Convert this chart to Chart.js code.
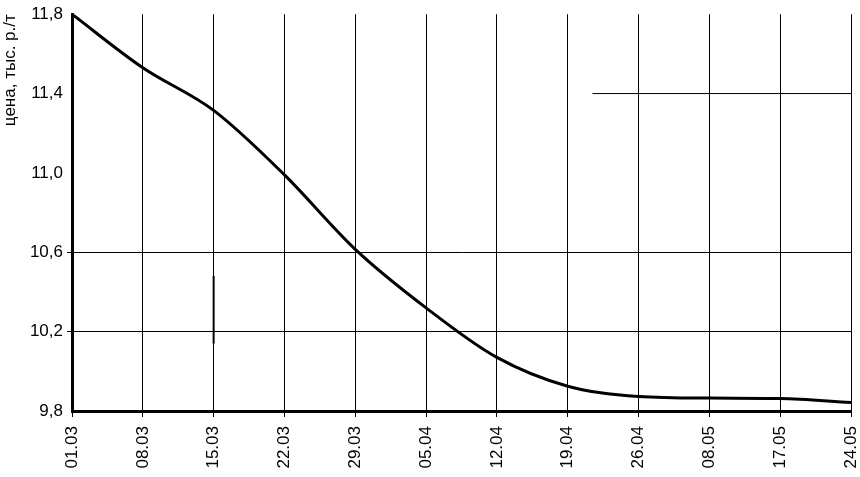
<!DOCTYPE html>
<html>
<head>
<meta charset="utf-8">
<script src="https://cdn.jsdelivr.net/npm/chart.js@4/dist/chart.umd.min.js"></script>
<style>
  html, body { margin: 0; padding: 0; background: #fff; }
  #wrap { width: 860px; height: 477px; position: relative; }
</style>
</head>
<body>
<div id="wrap"><canvas id="my_chart"></canvas></div>
<script>
// dates on the x axis (evenly spaced)
var date_labels = ['01.03', '08.03', '15.03', '22.03', '29.03', '05.04', '12.04', '19.04', '26.04', '08.05', '17.05', '24.05']
// price, thousand rub per tonne, read at each date
var price_values = [11.8, 11.53, 11.315, 10.99, 10.615, 10.32, 10.07, 9.925, 9.873, 9.865, 9.863, 9.843]
// stray marks on the original picture
var stray_h_x = [7.35, 11]
var stray_h_y = [11.4, 11.4]
var stray_v_x = [2, 2]
var stray_v_y = [10.48, 10.14]

var y_ticks = [9.8, 10.2, 10.6, 11.0, 11.4, 11.8]
var y_grid_shown = [10.2, 10.6]

function to_points(xs, ys) {
  return xs.map((x, i) => ({x: x, y: ys[i]}))
}

var font_family = '"Liberation Sans", Arial, sans-serif'

window.addEventListener("DOMContentLoaded", () => {
  var ctx = document.getElementById("my_chart")
  var my_chart = new Chart(ctx, {
    type: 'line',
    data: {
      datasets: [
        {
          label: 'цена',
          data: price_values.map((v, i) => ({x: i, y: v})),
          borderColor: '#000',
          borderWidth: 3,
          pointRadius: 0,
          cubicInterpolationMode: 'monotone',
          fill: false
        },
        {
          label: 'h',
          data: to_points(stray_h_x, stray_h_y),
          borderColor: '#000',
          borderWidth: 1,
          pointRadius: 0
        },
        {
          label: 'v',
          data: to_points(stray_v_x, stray_v_y),
          borderColor: '#000',
          borderWidth: 2,
          pointRadius: 0
        }
      ]
    },
    options: {
      responsive: true,
      maintainAspectRatio: false,
      animation: false,
      layout: { padding: { top: 11, right: 9, left: 0, bottom: 0 } },
      plugins: { legend: { display: false }, tooltip: { enabled: false } },
      scales: {
        x: {
          type: 'linear',
          min: 0,
          max: date_labels.length - 1,
          afterBuildTicks: (scale) => {
            scale.ticks = date_labels.map((l, i) => ({value: i}))
          },
          afterFit: (scale) => {
            scale.height = 66
            scale.paddingLeft = 0
            scale.paddingRight = 0
          },
          ticks: {
            color: '#000',
            font: { family: font_family, size: 17 },
            minRotation: 90,
            maxRotation: 90,
            padding: 9,
            autoSkip: false,
            callback: (value) => date_labels[value]
          },
          grid: { color: '#000', lineWidth: 1, tickLength: 6 },
          border: { color: '#000', width: 3 }
        },
        y: {
          min: 9.8,
          max: 11.8,
          afterBuildTicks: (scale) => {
            scale.ticks = y_ticks.map(v => ({value: v}))
          },
          afterFit: (scale) => { scale.width = 72 },
          ticks: {
            color: '#000',
            font: { family: font_family, size: 17 },
            padding: 4,
            callback: (value) => value.toFixed(1).replace('.', ',')
          },
          grid: {
            lineWidth: 1,
            tickLength: 5,
            color: (c) => {
              var v = c.tick ? c.tick.value : null
              return y_grid_shown.some(g => v !== null && Math.abs(g - v) < 1e-6) ? '#000' : 'rgba(0,0,0,0)'
            }
          },
          border: { color: '#000', width: 3 },
          title: {
            display: true,
            text: 'цена, тыс. р./т',
            align: 'end',
            color: '#000',
            font: { family: font_family, size: 17 },
            padding: { top: 0, bottom: 0 }
          }
        }
      }
    }
  })
})
</script>
</body>
</html>
